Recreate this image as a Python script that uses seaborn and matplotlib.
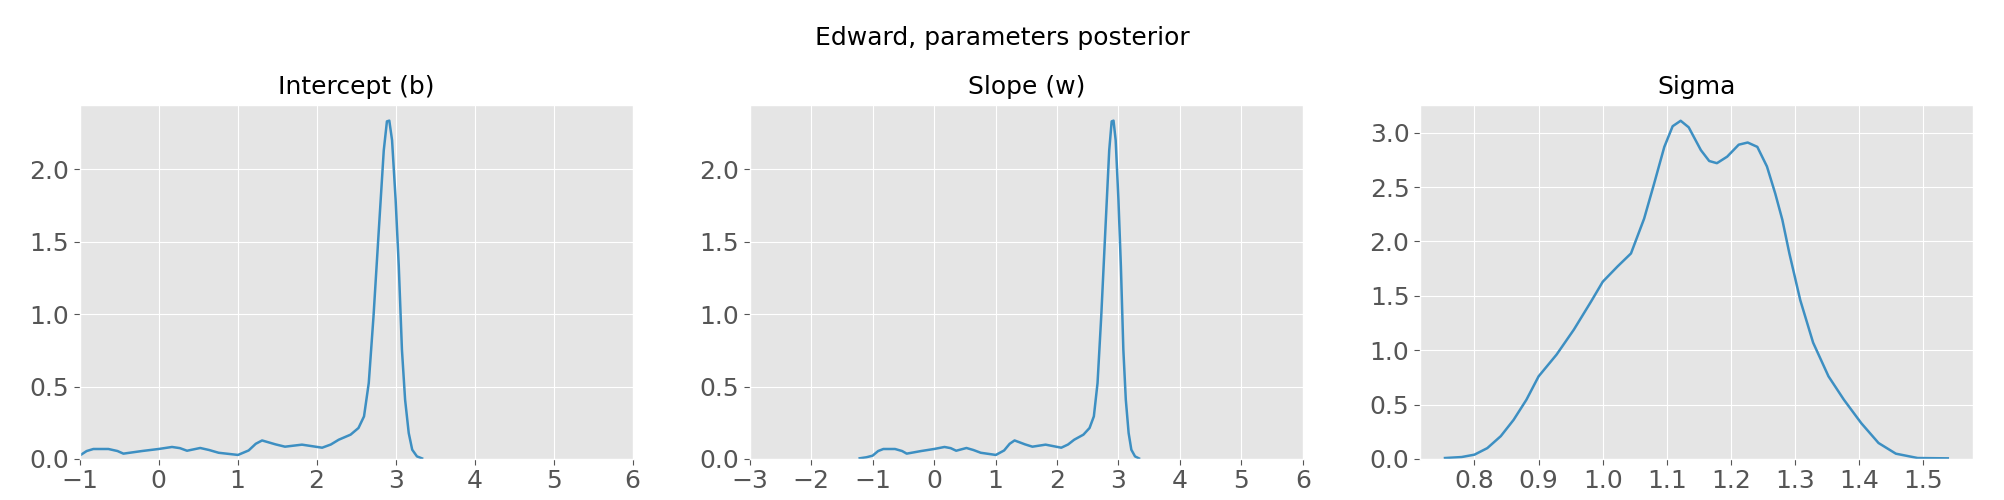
import matplotlib
matplotlib.use("Agg")
import matplotlib.pyplot as plt
import seaborn as sns
import pandas as pd

# ---- data (KDE curves) ----
intercept_x = [-1.21, -1.10, -1.0, -0.91, -0.825, -0.635, -0.52, -0.445, -0.21, 0.0, 0.17, 0.27, 0.36, 0.527,
               0.64, 0.76, 1.005, 1.14, 1.23, 1.31, 1.48, 1.60, 1.815, 2.07, 2.18, 2.28, 2.43, 2.53,
               2.60, 2.66, 2.72, 2.785, 2.85, 2.89, 2.92, 2.955, 3.0, 3.04, 3.08,
               3.12, 3.166, 3.21, 3.27, 3.335]
intercept_y = [0.005, 0.012, 0.023, 0.055, 0.069, 0.069, 0.055, 0.037, 0.055, 0.069, 0.083, 0.075, 0.057, 0.076,
               0.062, 0.043, 0.028, 0.059, 0.105, 0.128, 0.101, 0.085, 0.099, 0.078, 0.100, 0.133, 0.168, 0.214,
               0.294, 0.524, 0.983, 1.56, 2.13, 2.33, 2.335, 2.20, 1.79, 1.33, 0.754,
               0.409, 0.179, 0.064, 0.018, 0.004]

slope_x = [-1.21, -1.10, -1.0, -0.91, -0.825, -0.635, -0.52, -0.445, -0.21, 0.0, 0.17, 0.27, 0.36, 0.527,
           0.64, 0.76, 1.005, 1.14, 1.23, 1.31, 1.48, 1.60, 1.815, 2.07, 2.18, 2.28, 2.43, 2.53,
           2.60, 2.66, 2.72, 2.785, 2.85, 2.89, 2.92, 2.955, 3.0, 3.04, 3.08,
           3.12, 3.166, 3.21, 3.27, 3.335]
slope_y = [0.005, 0.012, 0.023, 0.055, 0.069, 0.069, 0.055, 0.037, 0.055, 0.069, 0.083, 0.075, 0.057, 0.076,
           0.062, 0.043, 0.028, 0.059, 0.105, 0.128, 0.101, 0.085, 0.099, 0.078, 0.100, 0.133, 0.168, 0.214,
           0.294, 0.524, 0.983, 1.56, 2.13, 2.33, 2.335, 2.20, 1.79, 1.33, 0.754,
           0.409, 0.179, 0.064, 0.018, 0.004]

sigma_x = [0.754, 0.780, 0.80, 0.820, 0.841, 0.861, 0.881, 0.90, 0.928, 0.955, 0.982,
           1.0, 1.023, 1.044, 1.0645, 1.080, 1.096, 1.109, 1.1215, 1.134, 1.153, 1.166,
           1.178, 1.194, 1.212, 1.226, 1.241, 1.256, 1.269, 1.28, 1.291, 1.308, 1.328,
           1.352, 1.376, 1.403, 1.430, 1.457, 1.491, 1.538]
sigma_y = [0.009, 0.018, 0.04, 0.10, 0.21, 0.36, 0.545, 0.76, 0.96, 1.19, 1.45,
           1.63, 1.77, 1.89, 2.21, 2.53, 2.87, 3.06, 3.11, 3.05, 2.84, 2.74,
           2.72, 2.78, 2.89, 2.91, 2.87, 2.69, 2.44, 2.20, 1.89, 1.46, 1.07,
           0.76, 0.545, 0.33, 0.147, 0.049, 0.009, 0.006]

titles = ["Intercept (b)", "Slope (w)", "Sigma"]
suptitle = "Edward, parameters posterior"
line_color = "#3d8fc2"

plt.style.use("ggplot")
plt.rcParams["font.family"] = ["DejaVu Sans"]

fig, axes = plt.subplots(1, 3, figsize=(20.04, 5.0), dpi=100)
fig.subplots_adjust(left=0.0397, right=0.9845, top=0.79, bottom=0.082, wspace=0.2116)

series = [(intercept_x, intercept_y), (slope_x, slope_y), (sigma_x, sigma_y)]
for ax, (xs, ys), title in zip(axes, series, titles):
    df = pd.DataFrame({"x": xs, "y": ys})
    sns.lineplot(data=df, x="x", y="y", ax=ax, color=line_color, linewidth=1.8,
                 sort=False, estimator=None)
    ax.set_xlabel("")
    ax.set_ylabel("")
    ax.set_title(title, fontsize=18, color="black", pad=8)
    ax.tick_params(axis="both", labelsize=18, colors="#555555", length=4)

axes[0].set_xlim(-1, 6)
axes[0].set_xticks(range(-1, 7))
axes[1].set_xlim(-3, 6)
axes[1].set_xticks(range(-3, 7))
axes[0].set_yticks([0.0, 0.5, 1.0, 1.5, 2.0])
axes[1].set_yticks([0.0, 0.5, 1.0, 1.5, 2.0])
axes[0].set_ylim(0, 2.443)
axes[1].set_ylim(0, 2.443)
axes[2].set_ylim(0, 3.255)
axes[2].set_xticks([0.8, 0.9, 1.0, 1.1, 1.2, 1.3, 1.4, 1.5])

fig.suptitle(suptitle, fontsize=18, y=0.948)
fig.savefig("out.png", dpi=100)
